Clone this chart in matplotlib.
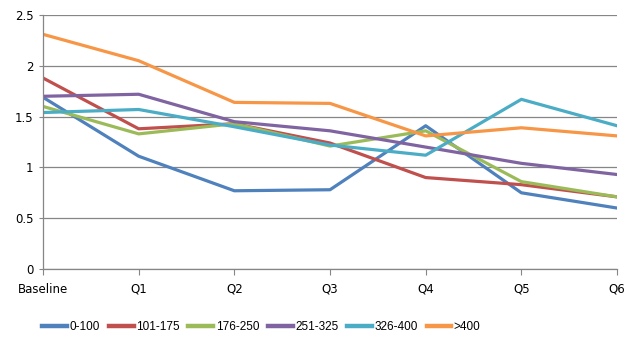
import matplotlib

matplotlib.use("Agg")
import matplotlib.pyplot as plt

categories = ["Baseline", "Q1", "Q2", "Q3", "Q4", "Q5", "Q6"]
series_names = ["0-100", "101-175", "176-250", "251-325", "326-400", ">400"]
s_0_100 = [1.69, 1.11, 0.77, 0.78, 1.41, 0.75, 0.60]
s_101_175 = [1.88, 1.38, 1.43, 1.24, 0.90, 0.83, 0.71]
s_176_250 = [1.60, 1.33, 1.43, 1.21, 1.36, 0.86, 0.71]
s_251_325 = [1.70, 1.72, 1.45, 1.36, 1.20, 1.04, 0.93]
s_326_400 = [1.54, 1.57, 1.40, 1.22, 1.12, 1.67, 1.41]
s_over_400 = [2.31, 2.05, 1.64, 1.63, 1.31, 1.39, 1.31]
y_ticks = [0, 0.5, 1, 1.5, 2, 2.5]
y_tick_labels = ["0", "0.5", "1", "1.5", "2", "2.5"]

colors = ["#4F81BD", "#C0504D", "#9BBB59", "#8064A2", "#4BACC6", "#F79646"]
all_series = [s_0_100, s_101_175, s_176_250, s_251_325, s_326_400, s_over_400]

plt.rcParams["font.family"] = ["DejaVu Sans"]
fig = plt.figure(figsize=(6.43, 3.6), dpi=100)
ax = fig.add_axes([0.0669, 0.2528, 0.8927, 0.7055])

x = list(range(len(categories)))
for name, vals, col in zip(series_names, all_series, colors):
    ax.plot(x, vals, color=col, linewidth=2.3, label=name, solid_joinstyle="round")

ax.set_xlim(0, len(categories) - 1)
ax.set_ylim(0, 2.5)
ax.set_yticks(y_ticks)
ax.set_yticklabels(y_tick_labels)
ax.set_xticks(x)
ax.set_xticklabels(categories)
ax.yaxis.grid(True, color="#868686", linewidth=0.9)
ax.set_axisbelow(True)

for side in ["top", "right"]:
    ax.spines[side].set_visible(False)
for side in ["left", "bottom"]:
    ax.spines[side].set_color("#868686")
    ax.spines[side].set_linewidth(0.9)

ax.tick_params(axis="x", length=4, color="#868686", labelsize=8.5, pad=6)
ax.tick_params(axis="y", length=3, color="#868686", labelsize=8.5, pad=4)

# legend sits under the plot, left-aligned with the axis
leg = fig.legend(loc="center left", bbox_to_anchor=(0.066, 0.092), ncol=6, frameon=False,
                 prop={"family": "Liberation Sans", "size": 8.5}, borderpad=0, borderaxespad=0,
                 handlelength=2.1, handletextpad=0.2, columnspacing=0.75)
for line in leg.get_lines():
    line.set_linewidth(3.2)

fig.savefig("out.png", dpi=100)
